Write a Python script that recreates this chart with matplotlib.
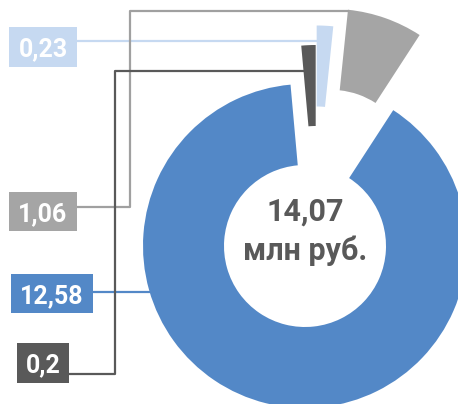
import matplotlib
matplotlib.use("Agg")
import math
import matplotlib.pyplot as plt
from matplotlib.patches import Rectangle

# Structure of the total, million rubles
values = [12.58, 0.20, 0.23, 1.06]
value_labels = ["12,58", "0,2", "0,23", "1,06"]
colors = ["#5388C7", "#595959", "#C6D9F1", "#A5A5A5"]
total_text = "14,07"
unit_text = "млн руб."

W, H = 458, 404
FONT = ["Roboto", "DejaVu Sans"]

fig = plt.figure(figsize=(W / 100, H / 100), dpi=100)
ax = fig.add_axes([0, 0, 1, 1])


def Y(y):
    """Convert a top-down pixel row into axis coordinates."""
    return H - y


# Donut geometry (pixels)
cx, cy = 305, Y(246)
R, ring = 162, 81
# pulled-out segments: shift of each segment's centre (dx, dy up)
shifts = [(0, 0), (10.7, 39), (11.7, 58.5), (26.4, 75.1)]

wedges, _ = ax.pie(values, colors=colors, startangle=57,
                   counterclock=False, radius=R, center=(cx, cy), frame=True,
                   wedgeprops=dict(width=ring, linewidth=0))
for w, (dx, dy) in zip(wedges, shifts):
    w.set_center((cx + dx, cy + dy))

ax.set_xlim(0, W)
ax.set_ylim(0, H)
ax.set_aspect("equal")
ax.axis("off")


def left_edge_x(w, y):
    """x where the wedge's counter-clockwise edge crosses height y."""
    th = math.radians(w.theta2)
    t = (y - w.center[1]) / math.sin(th)
    t = min(t, w.r)
    return w.center[0] + t * math.cos(th)


def outer_left_x(w, y):
    return w.center[0] - math.sqrt(w.r ** 2 - (y - w.center[1]) ** 2)


# Label boxes: (x0, y0, x1, y1) in top-down pixels
boxes = {
    0: (11, 274, 93, 313),
    1: (17, 343, 69, 383),
    2: (9, 27, 77, 67),
    3: (9, 192, 77, 231),
}

for i, (x0, y0, x1, y1) in boxes.items():
    ax.add_patch(Rectangle((x0, Y(y1)), x1 - x0, y1 - y0, facecolor=colors[i],
                           edgecolor="none", zorder=3))
    ax.text((x0 + x1) / 2, Y((y0 + y1) / 2), value_labels[i], color="white",
            fontsize=18, fontweight="bold", family=FONT, ha="center",
            va="center_baseline", zorder=4)

lw = 1.6
# 12,58 -> outer edge of the big blue segment
yb = Y(292)
ax.plot([93, outer_left_x(wedges[0], yb)], [yb, yb], color=colors[0], lw=lw, zorder=2)

# 0,23 -> light blue segment
yl = Y(41)
ax.plot([77, left_edge_x(wedges[2], yl)], [yl, yl], color=colors[2], lw=lw, zorder=2)

# 1,06 -> grey segment (elbow)
yg0, yg1, xg = Y(207), Y(11), 130
ax.plot([77, xg, xg, left_edge_x(wedges[3], yg1)], [yg0, yg0, yg1, yg1],
        color="#A0A0A0", lw=lw, zorder=2)

# 0,2 -> dark segment (elbow)
yd0, yd1, xd = Y(374), Y(71), 115
ax.plot([69, xd, xd, left_edge_x(wedges[1], yd1)], [yd0, yd0, yd1, yd1],
        color=colors[1], lw=lw, zorder=2)

# Centre total
ax.text(cx, Y(209), total_text, color="#595959", fontsize=22, fontweight="bold",
        family=FONT, ha="center", va="center_baseline")
ax.text(cx, Y(248), unit_text, color="#595959", fontsize=22, fontweight="bold",
        family=FONT, ha="center", va="center_baseline")

fig.savefig("out.png", dpi=100)
